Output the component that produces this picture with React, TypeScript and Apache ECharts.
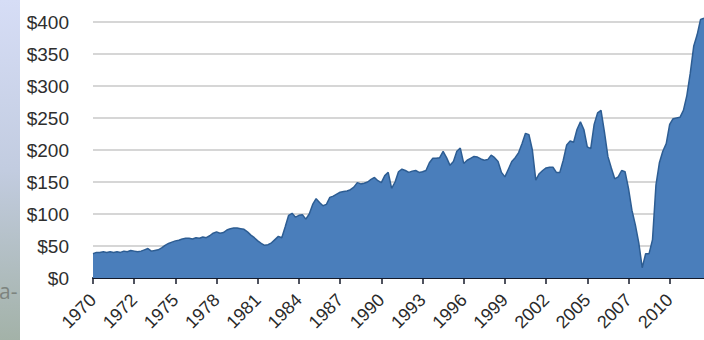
import React, { useEffect, useRef } from "react";
import * as echarts from "echarts";

// Quarterly values, 1970 onward (dollars)
const values: number[] = [
  38, 40, 40, 41, 40, 41, 40, 41, 40, 42, 41, 43,
  42, 41, 42, 44, 46, 42, 43, 44, 47, 51, 54, 56,
  58, 59, 61, 62, 62, 61, 63, 62, 64, 63, 66, 70,
  72, 70, 71, 75, 77, 78, 78, 77, 76, 72, 67, 63,
  58, 54, 51, 52, 55, 60, 65, 63, 80, 98, 101, 95,
  98, 99, 92, 100, 115, 124, 118, 113, 115, 126, 128, 131,
  134, 135, 136, 138, 142, 149, 147, 148, 150, 154, 157, 152,
  149, 160, 165, 140, 150, 166, 170, 168, 165, 167, 168, 165,
  166, 168, 180, 187, 187, 188, 198, 188, 176, 182, 198, 203,
  179, 184, 187, 190, 189, 186, 184, 185, 192, 188, 182, 165,
  158, 170, 182, 188, 196, 210, 226, 224, 200, 153, 163, 168,
  172, 173, 173, 165, 165, 184, 208, 214, 212, 232, 244, 232,
  205, 202, 240, 258, 262, 228, 190, 172, 155, 158, 168, 166,
  140, 106, 83, 55, 16, 38, 38, 60, 145, 180, 198, 210,
  240, 249, 250, 251, 262, 285, 320, 362, 380, 404, 406,
];

// Labels shown on every twelfth category
const tickLabels: string[] = [
  "1970", "1972", "1975", "1978", "1981", "1984", "1987", "1990",
  "1993", "1996", "1999", "2002", "2005", "2007", "2010",
];

const categories: string[] = values.map((_, i) => String(i));

export default function App() {
  const ref = useRef<HTMLDivElement>(null);

  useEffect(() => {
    if (!ref.current) return;
    const chart = echarts.init(ref.current, null, { renderer: "svg" });
    chart.setOption({
      animation: false,
      backgroundColor: "#ffffff",
      graphic: [
        {
          type: "rect",
          left: 0,
          top: 0,
          shape: { x: 0, y: 0, width: 20, height: 340 },
          style: {
            fill: new echarts.graphic.LinearGradient(0, 0, 0, 1, [
              { offset: 0, color: "#d6ddf6" },
              { offset: 0.5, color: "#c2cce0" },
              { offset: 1, color: "#a3b2a8" },
            ]),
          },
          z: 10,
        },
        {
          type: "text",
          left: -1,
          top: 280,
          style: {
            text: "a-",
            fontSize: 21,
            fontFamily: "Open Sans, Noto Sans, sans-serif",
            fill: "#7d847f",
          },
          z: 11,
        },
      ],
      grid: { left: 93, right: 0, top: 22, bottom: 62, containLabel: false },
      xAxis: {
        type: "category",
        data: categories,
        boundaryGap: false,
        axisLine: { show: true, lineStyle: { color: "#141a2a", width: 2 } },
        axisTick: {
          show: true,
          interval: 11,
          length: 6,
          lineStyle: { color: "#141a2a", width: 1.5 },
        },
        axisLabel: {
          interval: 11,
          rotate: 45,
          margin: 19,
          fontSize: 18,
          fontFamily: "Liberation Sans, Arial, sans-serif",
          color: "#2a2a2a",
          formatter: (_v: string, idx: number) => tickLabels[idx / 12] ?? "",
        },
        splitLine: { show: false },
      },
      yAxis: {
        type: "value",
        min: 0,
        max: 400,
        interval: 50,
        axisLine: { show: false },
        axisTick: { show: false },
        axisLabel: {
          margin: 24,
          fontSize: 19,
          fontFamily: "Liberation Sans, Arial, sans-serif",
          color: "#2e2e2e",
          formatter: (v: number) => "$" + v,
        },
        splitLine: { lineStyle: { color: "#d6d6d6", width: 2 } },
      },
      series: [
        {
          type: "line",
          data: values,
          symbol: "none",
          smooth: false,
          clip: false,
          lineStyle: { color: "#2d5d93", width: 1.5 },
          areaStyle: { color: "#4a7ebb", opacity: 1 },
        },
      ],
    });
    return () => chart.dispose();
  }, []);

  return (
    <div
      ref={ref}
      style={{ position: "fixed", left: 0, top: 0, width: 704, height: 340 }}
    />
  );
}
